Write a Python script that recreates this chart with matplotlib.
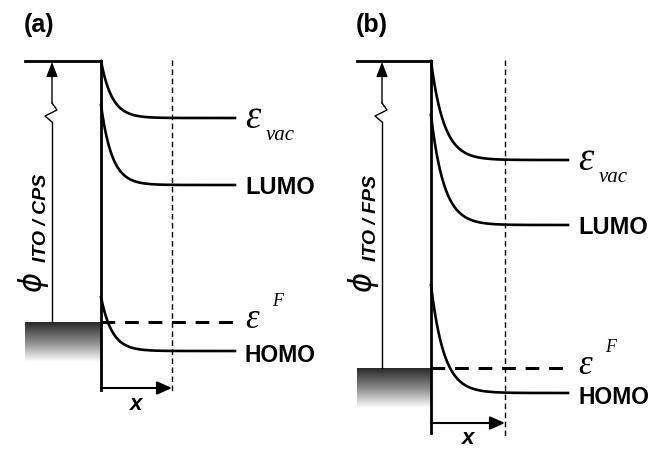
import matplotlib.pyplot as plt
import numpy as np
from matplotlib.colors import LinearSegmentedColormap

# Schematic energy levels per panel (screen units, larger = lower energy)
panels = ['(a)', '(b)']
phi_labels = ['ITO / CPS', 'ITO / FPS']
metal_top = [61, 61]          # vacuum level of ITO
evac_start = [61, 61]
evac_level = [118, 160]
lumo_start = [105, 115]
lumo_level = [185, 225]
homo_start = [297, 285]
homo_level = [351, 393]
fermi_level = [322, 368]
decay_len = [11, 13]

# layout of each panel (local units)
interface_x = [101, 101]
probe_x = [172, 175]
level_end = [235, 238]
metal_left = [25, 27]
phi_x = [52, 52]
axis_bottom = [390, 433]
arrow_y = [388, 423]

grad = LinearSegmentedColormap.from_list('g', ['#2a2a2a', '#8a8a8a', '#ffffff'])

fig = plt.figure(figsize=(6.52, 4.49), dpi=100)
widths = [330, 322]
left = 0
for i in range(2):
    w = widths[i]
    ax = fig.add_axes([left / 652, 0, w / 652, 1])
    left += w
    ax.set_xlim(0, w)
    ax.set_ylim(449, 0)
    ax.axis('off')

    x0 = interface_x[i]
    xe = level_end[i]
    ef = fermi_level[i]

    # metal (ITO) block with gradient
    g = np.linspace(0, 1, 100).reshape(-1, 1)
    ax.imshow(g, cmap=grad, aspect='auto',
              extent=[metal_left[i], x0, ef + 40, ef], zorder=1)

    # ITO vacuum level and interface
    ax.plot([metal_left[i], x0], [metal_top[i], metal_top[i]], color='black', lw=2, zorder=3)
    ax.plot([x0, x0], [metal_top[i], axis_bottom[i]], color='black', lw=2, zorder=3)

    # bent levels
    xs = np.linspace(0, xe - x0, 300)
    for s, p in [(evac_start[i], evac_level[i]),
                 (lumo_start[i], lumo_level[i]),
                 (homo_start[i], homo_level[i])]:
        ys = p + (s - p) * np.exp(-xs / decay_len[i])
        ax.plot(x0 + xs, ys, color='black', lw=1.9, zorder=3)

    # Fermi level
    ax.plot([x0, xe], [ef, ef], color='black', lw=2.2, dashes=(4.5, 3.2), zorder=3)

    # probe depth
    ax.plot([probe_x[i], probe_x[i]], [metal_top[i] - 1, axis_bottom[i] + 3],
            color='black', lw=1.0, dashes=(4, 2.5), zorder=2)
    ax.annotate('', xy=(probe_x[i], arrow_y[i]), xytext=(x0, arrow_y[i]),
                arrowprops=dict(arrowstyle='-|>,head_length=0.9,head_width=0.4',
                                color='black', lw=1.5, shrinkA=0, shrinkB=0))
    ax.text((x0 + probe_x[i]) / 2, arrow_y[i] + 16, 'x', fontsize=16,
            fontweight='bold', fontstyle='italic', family='Liberation Sans',
            ha='center', va='center')

    # work function arrow with break
    px = phi_x[i]
    ax.plot([px, px], [ef, metal_top[i] + 61], color='black', lw=1.0, zorder=2)
    ax.plot([px, px - 7, px + 5, px],
            [metal_top[i] + 61, metal_top[i] + 55, metal_top[i] + 49, metal_top[i] + 42],
            color='black', lw=1.0)
    ax.annotate('', xy=(px, metal_top[i] + 1), xytext=(px, metal_top[i] + 42),
                arrowprops=dict(arrowstyle='-|>,head_length=0.9,head_width=0.35',
                                color='black', lw=1.0, shrinkA=0, shrinkB=0))
    ax.text(px - 19, 282, 'ϕ', fontsize=22, fontstyle='italic', family='DejaVu Sans',
            rotation=90, ha='center', va='center')
    ax.text(px - 11, 218, phi_labels[i], fontsize=14, fontweight='bold',
            fontstyle='italic', family='Liberation Sans', rotation=90,
            ha='center', va='center')

    # labels
    lx = xe + 10
    ax.text(lx, evac_level[i] + 1, 'ε', fontsize=28, fontstyle='italic',
            family='Liberation Serif', ha='left', va='center')
    ax.text(lx + 21, evac_level[i] + 17, 'vac', fontsize=15, fontstyle='italic',
            family='Liberation Serif', ha='left', va='center')
    ax.text(lx, lumo_level[i] + 2, 'LUMO', fontsize=17, fontweight='bold',
            family='Liberation Sans', ha='left', va='center')
    ax.text(lx, ef - 2, 'ε', fontsize=25, fontstyle='italic',
            family='Liberation Serif', ha='left', va='center')
    ax.text(lx + 27, ef - 20, 'F', fontsize=13, fontstyle='italic',
            family='Liberation Serif', ha='left', va='center')
    ax.text(lx, homo_level[i] + 4, 'HOMO', fontsize=16.5, fontweight='bold',
            family='Liberation Sans', ha='left', va='center')

    ax.text(metal_left[i] - 1, 25, panels[i], fontsize=18, fontweight='bold',
            family='Liberation Sans', ha='left', va='center')

fig.savefig('out.png', dpi=100)
